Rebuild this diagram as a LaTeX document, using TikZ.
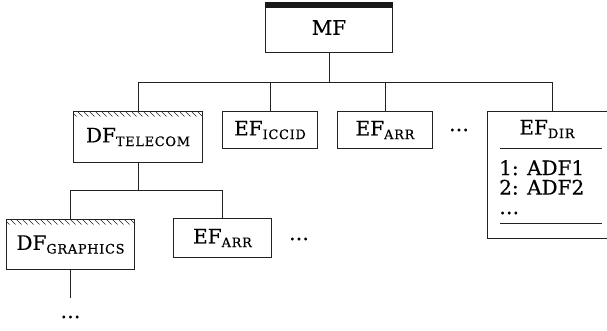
\documentclass[tikz,border=0pt]{standalone}
\usepackage{fontspec}
\setmainfont{DejaVu Serif}[FakeBold=0.4]
\usetikzlibrary{calc}
\definecolor{lc}{HTML}{222222}
\newcommand\sbs[1]{\raisebox{-0.35ex}{\fontsize{13}{13}\selectfont\addfontfeature{LetterSpace=5}#1}}
\newcommand\hatchtop[2]{%
  \begin{scope}
    \clip (#1.north west) rectangle ($(#1.north east)+(0,5.5)$);
    \foreach \i in {0,6,...,#2} \draw[draw=lc, line width=0.6pt] ($(#1.north west)+(\i-2,0)$) -- ++(5.5,5.5);
  \end{scope}}
\begin{document}
\begin{tikzpicture}[x=1pt,y=-1pt,
  box/.style={draw=lc, line width=1pt, inner sep=0pt, anchor=north west, font=\fontsize{20}{22}\selectfont},
  lbl/.style={inner sep=0pt, font=\fontsize{20}{22}\selectfont},
  conn/.style={draw=lc, line width=1pt}]
\useasboundingbox (0,0) rectangle (607,330);
% nodes
\node[box, minimum width=127pt, minimum height=50pt] (mf) at (265,2) {\raisebox{-3pt}{MF}};
\fill[black!90] (mf.north west) rectangle ($(mf.north east)+(0,6)$);
\node[box, minimum width=129pt, minimum height=51pt] (dftel) at (73,111) {DF\sbs{TELECOM}};
\node[box, minimum width=95pt, minimum height=37pt] (eficcid) at (222,111) {EF\sbs{ICCID}};
\node[box, minimum width=95pt, minimum height=37pt] (efarr) at (337,111) {EF\sbs{ARR}};
\node[lbl] (dots1) at (459,130) {\dots};
\node[box, minimum width=130pt, minimum height=127pt] (efdir) at (487,111) {};
\node[lbl] (efdirt) at (547,129) {EF\sbs{DIR}};
\draw[conn] (500,148) -- (602,148);
\node[lbl, anchor=north west, align=left, font=\fontsize{20}{19.5}\selectfont] (adfs) at (499,160) {1: ADF1\\2: ADF2\\\dots};
\draw[conn] (500,223) -- (602,223);
\node[box, minimum width=128pt, minimum height=50pt] (dfgr) at (6,219) {DF\sbs{GRAPHICS}};
\node[box, minimum width=98pt, minimum height=39pt] (efarr2) at (173,218) {EF\sbs{ARR}};
\node[lbl] (dots3) at (299,239) {\dots};
\node[lbl] (dots4) at (70.5,317) {\dots};
\coordinate (gend) at (70.5,298);
% hatching
\hatchtop{dftel}{135}
\hatchtop{dfgr}{135}
% bus 1
\coordinate (bus1) at (329,82);
\draw[conn] (mf.south) -- (mf.south |- bus1);
\draw[conn] (dftel.north) |- (efdir.north |- bus1) -- (efdir.north);
\draw[conn] (eficcid.north) -- (eficcid.north |- bus1);
\draw[conn] (efarr.north) -- (efarr.north |- bus1);
% bus 2
\coordinate (bus2) at (137,190);
\draw[conn] (dftel.south) -- (dftel.south |- bus2);
\draw[conn] (dfgr.north) |- (efarr2.north |- bus2) -- (efarr2.north);
\draw[conn] (dfgr.south) -- (gend);
\end{tikzpicture}
\end{document}
